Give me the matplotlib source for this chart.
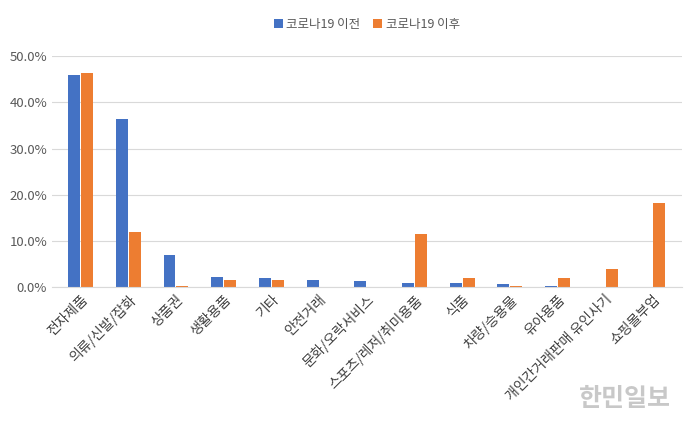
import matplotlib.pyplot as plt
import numpy as np

categories = ["전자제품", "의류/신발/잡화", "상품권", "생활용품", "기타", "안전거래", "문화/오락서비스",
              "스포츠/레저/취미용품", "식품", "차량/승용물", "유아용품", "개인간거래판매 유인사기", "쇼핑몰부업"]
before = [46.0, 36.3, 7.0, 2.2, 2.0, 1.6, 1.4, 0.9, 1.0, 0.7, 0.3, 0.0, 0.0]
after = [46.3, 12.0, 0.3, 1.6, 1.6, 0.0, 0.0, 11.5, 2.0, 0.3, 2.0, 4.0, 18.3]
series_names = ["코로나19 이전", "코로나19 이후"]
yticks = [0, 10, 20, 30, 40, 50]

plt.rcParams["font.family"] = ["Noto Sans CJK KR", "Noto Sans CJK JP", "Noto Sans CJK SC", "DejaVu Sans"]
fig = plt.figure(figsize=(6.92, 4.32), dpi=100)
ax = fig.add_axes([0.075, 0.335, 0.91, 0.535])
x = np.arange(len(categories))
w = 0.25
ax.bar(x - w/2 - 0.01, before, w, color="#4472C4", label=series_names[0])
ax.bar(x + w/2 + 0.01, after, w, color="#ED7D31", label=series_names[1])
ax.set_ylim(0, 50)
ax.set_xlim(-0.6, len(categories) - 0.4)
ax.set_yticks(yticks)
ax.set_yticklabels([f"{v:.1f}%" for v in yticks], color="#595959", fontsize=9.5)
ax.yaxis.grid(True, color="#D9D9D9", lw=0.8)
ax.set_axisbelow(True)
for s in ["top", "right", "left"]:
    ax.spines[s].set_visible(False)
ax.spines["bottom"].set_color("#D9D9D9")
ax.tick_params(length=0)
ax.set_xticks(x)
ax.set_xticklabels(categories, rotation=45, ha="right", rotation_mode="anchor",
                   fontsize=10, color="#404040")
ax.legend(loc="lower center", bbox_to_anchor=(0.5, 1.06), ncol=2, frameon=False,
          fontsize=9, handlelength=0.7, handleheight=0.7, columnspacing=1.0,
          handletextpad=0.3, labelcolor="#595959")
fig.text(0.97, 0.06, "한민일보", fontsize=18, color="#BBBBBB", ha="right", weight="bold", alpha=0.8)
fig.savefig("out.png", dpi=100)
